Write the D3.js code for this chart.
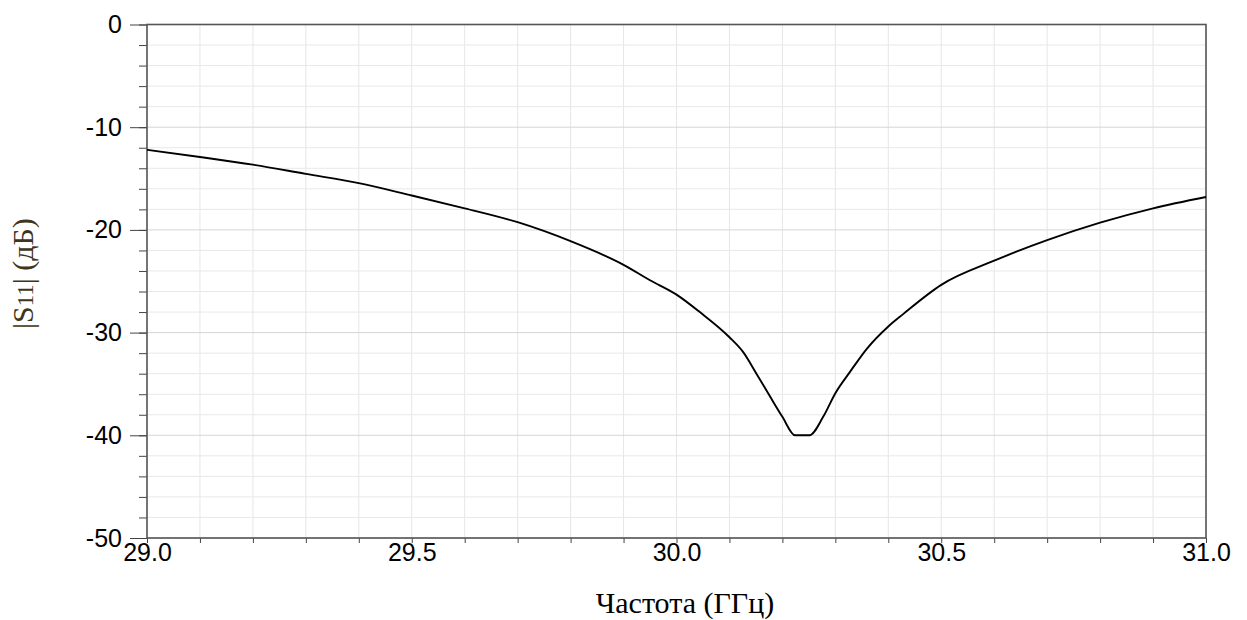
<!DOCTYPE html>
<html>
<head>
<meta charset="utf-8">
<script src="https://cdn.jsdelivr.net/npm/d3@7"></script>
<style>
  body { margin: 0; background: #fff; }
  .tick-label text { font-family: "Liberation Sans", Arial, sans-serif; font-size: 25px; fill: #000; }
  .axis-title { font-family: "Liberation Serif", "Times New Roman", serif; }
</style>
</head>
<body>
<div id="chart"></div>
<script>
// S11 readings, frequency in GHz
var freqGHz = [29.0, 29.1, 29.2, 29.3, 29.4, 29.5, 29.6, 29.7, 29.8, 29.9, 29.95, 30.0,
    30.044, 30.1, 30.126, 30.151, 30.177, 30.2, 30.224, 30.251, 30.277, 30.3, 30.328,
    30.359, 30.4, 30.428, 30.5, 30.6, 30.7, 30.8, 30.9, 31.0];
var s11dB = [-12.2, -12.9, -13.65, -14.55, -15.45, -16.65, -17.9, -19.25, -21.1, -23.4, -24.9, -26.3,
    -28.0, -30.45, -31.9, -34.0, -36.25, -38.2, -40, -40, -38.2, -35.9, -33.8,
    -31.6, -29.4, -28.2, -25.35, -23.0, -21.0, -19.3, -17.9, -16.8];

var xTickLabels = [29.0, 29.5, 30.0, 30.5, 31.0];
var yTickLabels = [0, -10, -20, -30, -40, -50];

var svgWidth = 1247;
var svgHeight = 620;

var chartMargin = { top: 24.5, right: 41, bottom: 82, left: 147 };
var chartWidth = svgWidth - chartMargin.left - chartMargin.right;
var chartHeight = svgHeight - chartMargin.top - chartMargin.bottom;

var svg = d3.select("#chart")
    .append("svg")
    .attr("width", svgWidth)
    .attr("height", svgHeight)
    .style("background", "#fff");

var chartGroup = svg.append("g")
    .attr("transform", `translate(${chartMargin.left}, ${chartMargin.top})`);

var xScale = d3.scaleLinear().domain([29, 31]).range([0, chartWidth]);
var yScale = d3.scaleLinear().domain([-50, 0]).range([chartHeight, 0]);

var xMinor = d3.range(0, 21).map(i => 29 + i * 0.1);
var yMinor = d3.range(0, 26).map(i => -50 + i * 2);

// grid
chartGroup.append("g").selectAll("line")
    .data(xMinor)
    .enter()
    .append("line")
    .attr("x1", d => xScale(d)).attr("x2", d => xScale(d))
    .attr("y1", 0).attr("y2", chartHeight)
    .attr("stroke", "#e6e6e6")
    .attr("stroke-width", 1);

chartGroup.append("g").selectAll("line")
    .data(yMinor)
    .enter()
    .append("line")
    .attr("x1", 0).attr("x2", chartWidth)
    .attr("y1", d => yScale(d)).attr("y2", d => yScale(d))
    .attr("stroke", d => d % 10 === 0 ? "#d6d6d6" : "#e8e8e8")
    .attr("stroke-width", 1);

// minor ticks
chartGroup.append("g")
    .call(d3.axisLeft(yScale).tickValues(yMinor).tickSize(8).tickFormat(""))
    .call(g => g.select(".domain").remove())
    .selectAll("line").attr("stroke", "#444");

chartGroup.append("g")
    .attr("transform", `translate(0, ${chartHeight})`)
    .call(d3.axisBottom(xScale).tickValues(xMinor).tickSize(5).tickFormat(""))
    .call(g => g.select(".domain").remove())
    .selectAll("line").attr("stroke", "#444");

// major y ticks + labels
var yAxis = chartGroup.append("g")
    .classed("tick-label", true)
    .call(d3.axisLeft(yScale).tickValues(yTickLabels).tickSize(17).tickPadding(8).tickFormat(d => String(d)));
yAxis.select(".domain").remove();
yAxis.selectAll("line").attr("stroke", "#444");
yAxis.selectAll("text").attr("font-family", null).attr("font-size", null);

var xAxis = chartGroup.append("g")
    .classed("tick-label", true)
    .attr("transform", `translate(0, ${chartHeight})`)
    .call(d3.axisBottom(xScale).tickValues(xTickLabels).tickSize(0).tickPadding(5).tickFormat(d3.format(".1f")));
xAxis.select(".domain").remove();
xAxis.selectAll("text").attr("font-family", null).attr("font-size", null);

// frame
chartGroup.append("rect")
    .attr("x", 0).attr("y", 0)
    .attr("width", chartWidth).attr("height", chartHeight)
    .attr("fill", "none")
    .attr("stroke", "#555")
    .attr("stroke-width", 1.6);

// curve
var line = d3.line()
    .x((d, i) => xScale(freqGHz[i]))
    .y(d => yScale(d))
    .curve(d3.curveMonotoneX);

chartGroup.append("path")
    .datum(s11dB)
    .attr("d", line)
    .attr("fill", "none")
    .attr("stroke", "#000")
    .attr("stroke-width", 1.9)
    .attr("stroke-linejoin", "round");

// axis titles
svg.append("text")
    .classed("axis-title", true)
    .attr("x", 685)
    .attr("y", 613)
    .attr("text-anchor", "middle")
    .attr("font-size", 30)
    .attr("fill", "#000")
    .text("Частота (ГГц)");

var yTitle = svg.append("text")
    .classed("axis-title", true)
    .attr("transform", "translate(33, 329) rotate(-90)")
    .attr("text-anchor", "start")
    .attr("font-size", 30)
    .attr("fill", "#3d3520");
yTitle.append("tspan").text("|S");
yTitle.append("tspan").attr("font-size", 23).text("11");
yTitle.append("tspan").text("| (дБ)");
</script>
</body>
</html>
